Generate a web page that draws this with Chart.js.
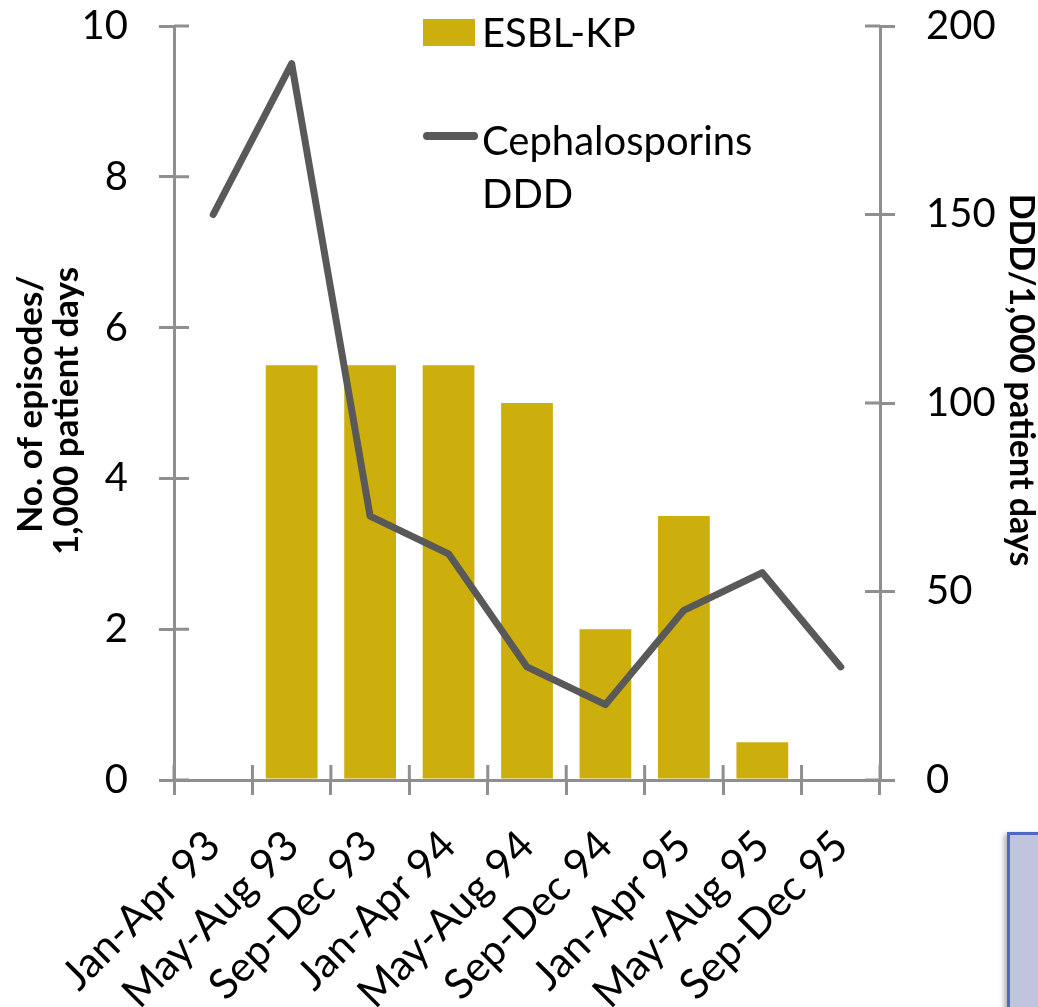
<!DOCTYPE html>
<html>
<head>
<meta charset="utf-8">
<script src="https://cdn.jsdelivr.net/npm/chart.js@4.4.1/dist/chart.umd.min.js"></script>
<style>
  html, body { margin: 0; padding: 0; background: #ffffff; }
  #wrap { position: relative; width: 1038px; height: 1007px; overflow: hidden; }
  canvas { display: block; }
  #note {
    position: absolute; left: 1007px; top: 832px; width: 80px; height: 220px;
    background: #c0c4dc; border: 3px solid #4a6bc0;
    box-shadow: -3px 2px 5px rgba(0, 0, 0, 0.3);
  }
</style>
</head>
<body>
<div id="wrap">
  <canvas id="chart" width="1038" height="1007"></canvas>
  <div id="note"></div>
</div>
<script>
// Four-month periods
const categories = [
  'Jan-Apr 93', 'May-Aug 93', 'Sep-Dec 93',
  'Jan-Apr 94', 'May-Aug 94', 'Sep-Dec 94',
  'Jan-Apr 95', 'May-Aug 95', 'Sep-Dec 95'
];
// ESBL-KP episodes per 1,000 patient days (left axis)
const esblKp = [0, 5.5, 5.5, 5.5, 5.0, 2.0, 3.5, 0.5, 0];
// Cephalosporin use, DDD per 1,000 patient days (right axis)
const cephalosporinsDdd = [150, 190, 70, 60, 30, 20, 45, 55, 30];
// Axis tick values
const leftTicks = [0, 2, 4, 6, 8, 10];
const rightTicks = [0, 50, 100, 150, 200];

const BAR_COLOR = '#ccae0c';
const LINE_COLOR = '#595959';
const AXIS_COLOR = '#8f8f8f';
const FONT = 'Lato';
const TICK_FONT = { family: FONT, size: 40 };

// Inner halves of the crossing tick marks, axis titles and legend
const decorations = {
  id: 'decorations',
  afterDraw(chart) {
    const ctx = chart.ctx;
    const ca = chart.chartArea;
    const { x, y, y1 } = chart.scales;
    ctx.save();
    ctx.strokeStyle = AXIS_COLOR;
    ctx.lineWidth = 3;
    ctx.beginPath();
    y.ticks.forEach((t, i) => {
      const p = y.getPixelForTick(i);
      ctx.moveTo(ca.left, p); ctx.lineTo(ca.left + 15, p);
    });
    y1.ticks.forEach((t, i) => {
      const p = y1.getPixelForTick(i);
      ctx.moveTo(ca.right - 15, p); ctx.lineTo(ca.right, p);
    });
    const step = x.getPixelForValue(1) - x.getPixelForValue(0);
    for (let i = 0; i <= categories.length; i++) {
      const bx = x.getPixelForValue(0) - step / 2 + i * step;
      ctx.moveTo(bx, ca.bottom - 15); ctx.lineTo(bx, ca.bottom);
    }
    ctx.stroke();

    // axis titles
    ctx.fillStyle = '#000000';
    ctx.font = 'bold 35px ' + FONT;
    ctx.textAlign = 'center';
    ctx.textBaseline = 'alphabetic';
    const midY = (ca.top + ca.bottom) / 2;
    [['No. of episodes/', 42, midY + 1], ['1,000 patient days', 78, midY + 8]].forEach(([t, bx, cy]) => {
      ctx.save();
      ctx.translate(bx, cy);
      ctx.rotate(-Math.PI / 2);
      ctx.fillText(t, 0, 0);
      ctx.restore();
    });
    ctx.font = 'bold 34px ' + FONT;
    ctx.save();
    ctx.translate(1010, midY - 23);
    ctx.rotate(Math.PI / 2);
    ctx.fillText('DDD/1,000 patient days', 0, 0);
    ctx.restore();

    // legend
    ctx.font = '40px ' + FONT;
    ctx.textAlign = 'left';
    ctx.fillStyle = BAR_COLOR;
    ctx.fillRect(423, 19, 52, 27);
    ctx.strokeStyle = LINE_COLOR;
    ctx.lineWidth = 8;
    ctx.lineCap = 'round';
    ctx.beginPath();
    ctx.moveTo(427, 136); ctx.lineTo(474, 136);
    ctx.stroke();
    ctx.fillStyle = '#000000';
    ctx.fillText('ESBL-KP', 482, 47);
    ctx.fillText('Cephalosporins', 482, 155);
    ctx.fillText('DDD', 482, 208);
    ctx.restore();
  }
};

// label overflow is not allowed to push the plot area around
function noOverflow(s) {
  s.paddingTop = 0; s.paddingBottom = 0; s.paddingLeft = 0; s.paddingRight = 0;
}

new Chart(document.getElementById('chart'), {
  data: {
    labels: categories,
    datasets: [
      {
        type: 'line',
        label: 'Cephalosporins DDD',
        data: cephalosporinsDdd,
        yAxisID: 'y1',
        borderColor: LINE_COLOR,
        borderWidth: 7,
        borderCapStyle: 'round',
        borderJoinStyle: 'round',
        pointRadius: 0,
        tension: 0,
        order: 0
      },
      {
        type: 'bar',
        label: 'ESBL-KP',
        data: esblKp,
        yAxisID: 'y',
        backgroundColor: BAR_COLOR,
        barPercentage: 0.66,
        categoryPercentage: 1,
        order: 1
      }
    ]
  },
  options: {
    responsive: false,
    animation: false,
    layout: { padding: { top: 26, left: 0, right: 0, bottom: 0 } },
    plugins: { legend: { display: false }, tooltip: { enabled: false } },
    scales: {
      x: {
        offset: true,
        grid: { display: true, drawOnChartArea: false, drawTicks: true, tickLength: 15,
                color: AXIS_COLOR, lineWidth: 3, offset: true },
        border: { display: true, color: AXIS_COLOR, width: 3 },
        ticks: { font: { family: FONT, size: 42 }, color: '#000000', minRotation: 45, maxRotation: 45,
                 padding: 26, autoSkip: false },
        afterFit(s) { s.height = 227; noOverflow(s); }
      },
      y: {
        position: 'left',
        min: leftTicks[0],
        max: leftTicks[leftTicks.length - 1],
        grid: { display: true, drawOnChartArea: false, drawTicks: true, tickLength: 15,
                color: AXIS_COLOR, lineWidth: 3 },
        border: { display: true, color: AXIS_COLOR, width: 3 },
        ticks: { stepSize: leftTicks[1] - leftTicks[0], font: TICK_FONT, color: '#000000', padding: 31 },
        afterFit(s) { s.width = 174; noOverflow(s); }
      },
      y1: {
        position: 'right',
        min: rightTicks[0],
        max: rightTicks[rightTicks.length - 1],
        grid: { display: true, drawOnChartArea: false, drawTicks: true, tickLength: 15,
                color: AXIS_COLOR, lineWidth: 3 },
        border: { display: true, color: AXIS_COLOR, width: 3 },
        ticks: { stepSize: rightTicks[1] - rightTicks[0], font: TICK_FONT, color: '#000000', padding: 31 },
        afterFit(s) { s.width = 158; noOverflow(s); }
      }
    }
  },
  plugins: [decorations]
});
</script>
</body>
</html>
